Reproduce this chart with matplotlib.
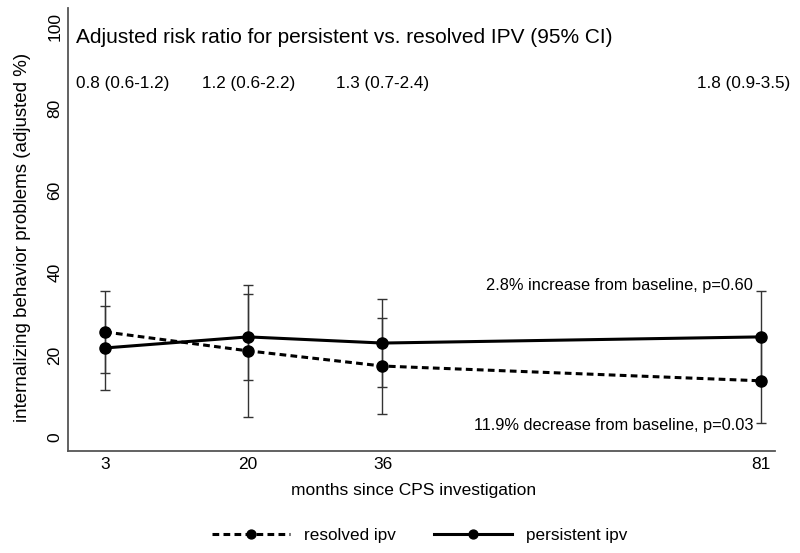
import matplotlib
matplotlib.use('Agg')
import matplotlib.pyplot as plt

plt.rcParams['font.family'] = ['Liberation Sans', 'DejaVu Sans']

# data
months = [3, 20, 36, 81]
resolved = [25.6, 21.0, 17.3, 13.7]
resolved_err = [10.0, 16.1, 11.8, 10.3]
persistent = [21.7, 24.4, 22.9, 24.4]
persistent_err = [10.3, 10.5, 10.8, 11.2]
rr_labels = ['0.8 (0.6-1.2)', '1.2 (0.6-2.2)', '1.3 (0.7-2.4)', '1.8 (0.9-3.5)']
rr_xpos = [5.1, 20.1, 36.0, 78.9]
yticks = [0, 20, 40, 60, 80, 100]

fig = plt.figure(figsize=(8, 5.53), dpi=100)
ax = fig.add_axes([0.085, 0.1844, 0.884, 0.8011])

# error bars
ax.errorbar(months, resolved, yerr=resolved_err, fmt='none', ecolor='#333333',
            elinewidth=1, capsize=3.5, capthick=1, zorder=2)
ax.errorbar(months, persistent, yerr=persistent_err, fmt='none', ecolor='#333333',
            elinewidth=1, capsize=3.5, capthick=1, zorder=2)

ax.plot(months, resolved, color='black', lw=2.2, linestyle=(0, (2.2, 1.4)),
        marker='o', markersize=8, label='resolved ipv', zorder=3)
ax.plot(months, persistent, color='black', lw=2.2, linestyle='-',
        marker='o', markersize=8, label='persistent ipv', zorder=3)

ax.set_xlim(-1.4, 82.7)
ax.set_ylim(-3.4, 104.5)
ax.set_xticks(months)
ax.set_yticks(yticks)
ax.tick_params(axis='both', length=0, labelsize=12.5, colors='black')
ax.tick_params(axis='x', pad=4)
ax.tick_params(axis='y', pad=4)
for lab in ax.get_yticklabels():
    lab.set_rotation(90)
    lab.set_va('center')

for s in ['top', 'right']:
    ax.spines[s].set_visible(False)
for s in ['left', 'bottom']:
    ax.spines[s].set_color('#555555')
    ax.spines[s].set_linewidth(1.3)

ax.set_xlabel('months since CPS investigation', fontsize=12.5)
ax.set_ylabel('internalizing behavior problems (adjusted %)', fontsize=13.5)
ax.xaxis.set_label_coords(0.489, -0.072)
ax.yaxis.set_label_coords(-0.053, 0.483)

ax.text(-0.4, 97.3, 'Adjusted risk ratio for persistent vs. resolved IPV (95% CI)',
        fontsize=15, ha='left', va='center')
for x, lab in zip(rr_xpos, rr_labels):
    ax.text(x, 86.0, lab, fontsize=12.3, ha='center', va='center')

ax.text(80.1, 37.0, '2.8% increase from baseline, p=0.60', fontsize=11.8,
        ha='right', va='center')
ax.text(80.1, 2.7, '11.9% decrease from baseline, p=0.03', fontsize=11.8,
        ha='right', va='center')

ax.legend(loc='center', bbox_to_anchor=(0.497, -0.19), ncol=2, frameon=False,
          fontsize=12.3, handlelength=4.6, columnspacing=2.2, handletextpad=0.8,
          markerscale=0.8)

fig.savefig('out.png', dpi=100)
